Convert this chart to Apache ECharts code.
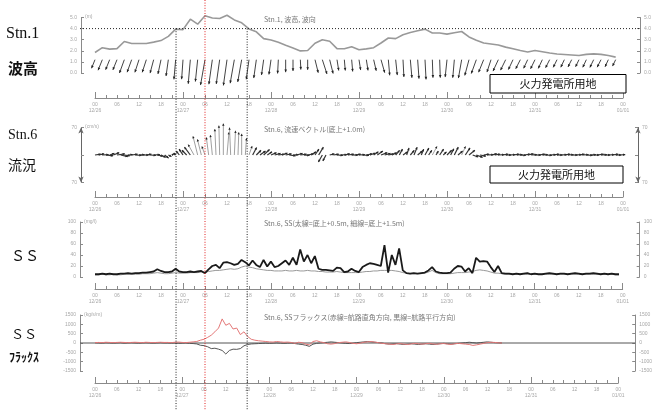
<!DOCTYPE html>
<html><head><meta charset="utf-8">
<script src="https://cdn.jsdelivr.net/npm/echarts@6/dist/echarts.min.js"></script>
<style>html,body{margin:0;padding:0;background:#fff}#c{width:655px;height:410px}</style>
</head><body><div id="c"></div>
<script>
// ---- tick labels ----
const dayLabels = ['12/26','12/27','12/28','12/29','12/30','12/31','01/01'];
const hourTickLabels = ['00','06','12','18'];
const waveStepH = 2;   // wave data every 2 hours
const hourlyStepH = 1; // other data hourly

// ---- Stn.1 wave height (m), every 2 h ----
const waveHeight = [1.85,2.28,2.15,2.2,2.84,2.66,2.66,2.66,2.78,2.92,
  3.3,3.95,3.91,4.85,4.4,5.15,4.95,4.91,5.2,4.78,
  4.52,3.97,3.71,3.1,2.98,2.76,2.5,2.25,1.99,2.03,
  2.68,3.0,2.86,2.2,2.18,2.37,2.1,2.17,2.28,2.7,
  3.15,3.1,3.45,3.65,3.8,3.95,3.6,3.6,3.5,3.62,
  3.74,3.25,2.95,2.7,2.61,2.52,2.33,2.18,2.03,1.9,
  2.03,1.92,1.8,1.71,1.67,1.62,1.57,1.68,1.72,1.68,
  1.57,1.43];
// wave direction (deg, coming from), every 2 h
const waveDir = [22,22,22,22,20,20,18,18,15,12,
  8,5,4,5,6,10,8,8,8,10,
  10,8,8,8,8,3,0,0,357,0,
  346,342,346,351,355,355,351,351,347,344,
  355,354,357,355,356,357,358,358,6,5,
  10,15,20,22,18,25,26,25,27,25,
  26,25,27,26,25,27,26,25,26,27,
  25,26];
const waveThreshold = 4.0;

// ---- Stn.6 current vector (cm/s), hourly ----
const curU = [15,14,16,18,12,15,20,18,14,12,
  15,16,14,15,13,15,16,14,12,10,
  8,5,-5,-8,-10,-12,-15,-15,-12,-10,
  -8,-6,-5,-3,-2,0,5,-3,3,2,
  0,3,8,10,12,14,15,12,14,15,
  16,14,15,16,14,15,16,14,15,12,
  10,12,-10,-8,12,14,15,16,14,15,
  16,14,15,16,15,14,12,14,16,15,
  14,12,10,8,12,6,10,8,12,6,
  10,8,12,6,10,8,12,8,10,12,
  10,12,15,14,16,15,14,16,15,14,
  15,16,14,15,16,15,14,16,15,14,
  15,16,14,15,16,15,14,16,15,14,
  15,16,14,15,16,15,14,16,15,14,15,16,14,15];
const curV = [2,3,1,-2,4,6,3,-4,-2,1,
  2,-1,1,0,2,-1,1,-3,-6,-8,
  -4,3,5,10,15,12,20,27,48,40,
  22,45,51,66,75,80,58,70,62,58,
  54,43,23,19,12,10,14,8,6,4,
  2,5,3,-2,1,4,2,-1,3,8,
  15,20,-18,-15,3,2,-1,1,3,2,
  0,2,1,-1,3,5,8,10,6,4,
  3,6,12,15,8,18,12,20,10,15,
  18,12,22,10,15,8,12,16,20,10,
  22,18,12,-5,-6,-3,2,1,3,2,
  1,2,0,1,2,1,-1,2,3,1,
  0,2,1,-1,1,2,0,1,2,1,
  0,1,2,1,-1,1,0,2,1,0,1,2,0,1];

// ---- Stn.6 SS (mg/l), hourly ----
const ssBottom05 = [5,5,6,5,6,5,5,6,6,7,
  6,7,7,8,8,9,10,14,11,9,
  9,10,15,10,9,9,10,9,10,11,
  7,14,20,22,16,26,27,25,22,24,
  31,27,21,30,22,18,31,19,28,18,
  20,25,30,22,35,22,50,28,40,25,
  38,15,13,13,12,11,17,16,9,10,
  15,11,9,18,22,25,24,22,20,58,
  8,40,22,52,12,7,6,7,6,7,
  8,12,18,10,8,7,7,8,15,20,
  19,10,16,7,35,28,29,28,18,9,
  20,7,6,6,5,6,5,6,7,5,
  6,5,5,6,7,6,5,6,6,5,
  6,7,6,5,6,6,7,6,5,6,
  5,6,5,5];
const ssBottom15 = [4,4,5,4,4,5,4,4,5,5,
  5,5,5,6,6,6,7,8,7,6,
  6,7,8,7,7,7,8,8,8,9,
  9,10,11,12,12,13,14,15,14,15,
  18,20,18,17,15,14,13,12,12,11,
  11,11,12,11,11,12,11,11,12,11,
  11,10,10,9,9,9,10,9,8,8,
  8,8,8,9,10,10,11,11,12,12,
  12,12,11,10,8,7,6,6,6,6,
  7,9,12,8,6,6,6,6,7,8,
  8,8,9,10,12,13,12,11,9,7,
  7,6,5,5,5,5,5,5,5,5,
  5,5,5,5,5,5,5,5,5,5,
  5,5,5,5,5,5,5,5,5,5,
  5,5,4,4];

// ---- Stn.6 SS flux (kg/s/m), hourly ----
const fluxPerp = [20,30,20,40,30,20,30,40,30,20,
  30,40,30,20,40,30,20,30,40,30,
  30,20,40,50,30,20,40,60,80,150,
  200,300,420,600,800,1290,950,1050,750,800,
  450,600,350,200,150,120,100,80,60,50,
  80,60,40,50,30,-20,40,20,-60,-100,
  80,120,60,20,-40,-60,-30,20,40,60,
  30,-20,-40,-10,40,60,80,50,20,-20,
  -40,-60,-80,-50,-30,-60,-80,-50,-20,-40,
  -60,-40,-20,-50,-70,-40,-30,-60,-80,-40,
  -20,-40,-60,-80,-130,-100,-60,-20,20,40,
  30,10,0];
const fluxPara = [10,0,-10,10,0,-10,0,10,-10,0,
  10,0,-10,0,10,0,-10,0,10,0,
  0,-10,0,-20,-10,0,-20,-30,-50,-120,
  -140,-200,-300,-280,-330,-400,-590,-400,-330,-340,
  -300,-150,-80,-50,-40,-30,-20,-10,-20,-10,
  0,-10,-20,-10,0,-30,-60,-80,-120,-180,
  -60,-20,0,20,40,60,40,20,0,-20,
  -30,-10,20,40,60,80,60,40,20,0,
  -40,-60,-50,-30,-60,-80,-60,-40,-60,-80,
  -60,-40,-60,-80,-60,-40,-20,-40,-60,-40,
  -20,0,20,40,20,0,20,40,60,40,
  20,10,0];

// event times (hours from 12/26 00:00)
const blackMarkerHours = [22.1, 41.5];
const redMarkerHours = [30];

// ---------------------------------------------------------
const toPairs = (arr, step) => arr.map((v, i) => [i * step, v]);
const AX = '#8a8a8a', LB = '#a8a8a8';
const xfmt = v => {
  if (v % 6) return '';
  const hh = hourTickLabels[(v % 24) / 6];
  return v % 24 === 0 ? hh + '\n' + dayLabels[v / 24] : hh;
};
const offs = [25, 14.5, 12, 12];
const xAxis = [];
offs.forEach((off, i) => {
  xAxis.push({type:'value', gridIndex:i, min:0, max:144, interval:3, position:'bottom', offset:off,
    axisLine:{onZero:false, lineStyle:{color:AX, width:1}},
    axisTick:{inside:true, length:3, lineStyle:{color:AX}},
    axisLabel:{fontSize:5, color:LB, margin:4, lineHeight:6, formatter:xfmt, showMinLabel:true, showMaxLabel:true},
    splitLine:{show:false}});
  xAxis.push({type:'value', gridIndex:i, min:0, max:144, interval:24, position:'bottom', offset:off,
    axisLine:{show:false, onZero:false}, axisTick:{inside:true, length:6, lineStyle:{color:AX}},
    axisLabel:{show:false}, splitLine:{show:false}});
});
function yAx(i, pos, off, min, max, interval, fmt, name, extra) {
  return Object.assign({type:'value', gridIndex:i, position:pos, offset:off, min, max, interval,
    axisLine:{show:true, onZero:false, lineStyle:{color:AX}},
    axisTick:{show:true, inside:true, length:3, lineStyle:{color:AX}},
    axisLabel:{fontSize:5, color:LB, margin:4, formatter:fmt},
    splitLine:{show:false},
    name: name || '', nameLocation:'end', nameGap:-2,
    nameTextStyle:{fontSize:5, color:LB, align:'left', padding:[0,0,0,4]}}, extra || {});
}
const f1 = v => v.toFixed(1);
const fAbs = v => v === 0 ? '' : String(Math.abs(v));
const fi = v => String(v);
const arrowLine = {show:true, onZero:false, lineStyle:{color:'#666'}, symbol:['arrow','arrow'], symbolSize:[4,6]};
const yAxis = [
  yAx(0,'left',14,0,5,1,f1,'(m)'),
  yAx(0,'right',17,0,5,1,f1),
  yAx(1,'left',14,-70,70,70,fAbs,'(cm/s)',{axisLine:arrowLine}),
  yAx(1,'right',15,-70,70,70,fAbs,'',{axisLine:arrowLine}),
  yAx(2,'left',15,0,100,20,fi,'(mg/l)'),
  yAx(2,'right',17,0,100,20,fi),
  yAx(3,'left',15,-1500,1500,500,fi,'(kg/s/m)'),
  yAx(3,'right',17,-1500,1500,500,fi)
];
const grid = [
  {left:95, right:32, top:17.5, height:55.5},
  {left:95, right:32, top:127.5, height:55},
  {left:95, right:32, top:222, height:55},
  {left:95, right:32, top:315, height:56}
];

const arrowBaseM = 1.2;
function waveArrow(params, api) {
  const h = api.value(0), hs = api.value(1), dir = api.value(2);
  const tail = api.coord([h, arrowBaseM]);
  const L = hs * 5;
  const r = dir * Math.PI / 180;
  const tip = [tail[0] - Math.sin(r) * L, tail[1] + Math.cos(r) * L];
  const a = Math.atan2(tip[1] - tail[1], tip[0] - tail[0]);
  const hl = 3;
  const p1 = [tip[0] - hl * Math.cos(a - 0.45), tip[1] - hl * Math.sin(a - 0.45)];
  const p2 = [tip[0] - hl * Math.cos(a + 0.45), tip[1] - hl * Math.sin(a + 0.45)];
  return {type:'group', children:[
    {type:'line', shape:{x1:tail[0], y1:tail[1], x2:tip[0], y2:tip[1]}, style:{stroke:'#444', lineWidth:1}},
    {type:'polygon', shape:{points:[tip, p1, p2]}, style:{fill:'#222'}}
  ]};
}
function stick(params, api) {
  const h = api.value(0), u = api.value(1), v = api.value(2);
  const base = api.coord([h, 0]);
  const k = api.size([0, 1])[1];
  const tip = [base[0] + u * k, base[1] - v * k];
  const a = Math.atan2(tip[1] - base[1], tip[0] - base[0]);
  const hl = 2.5;
  const p1 = [tip[0] - hl * Math.cos(a - 0.5), tip[1] - hl * Math.sin(a - 0.5)];
  const p2 = [tip[0] - hl * Math.cos(a + 0.5), tip[1] - hl * Math.sin(a + 0.5)];
  const big = Math.abs(v) > 20;
  return {type:'group', children:[
    {type:'line', shape:{x1:base[0], y1:base[1], x2:tip[0], y2:tip[1]},
      style:{stroke: big ? '#888' : '#333', lineWidth: big ? 0.8 : 1.2}},
    {type:'polygon', shape:{points:[tip, p1, p2]}, style:{fill:'#222'}}
  ]};
}
function hRef(color, dash, lw) {
  return function (params, api) {
    const cs = params.coordSys;
    const y = api.coord([0, api.value(1)])[1];
    return {type:'line', shape:{x1:cs.x - 15, y1:y, x2:cs.x + cs.width + 17, y2:y},
      style:{stroke:color, lineWidth:lw, lineDash:dash}};
  };
}
function vMarker(color, fromThreshold) {
  return function (params, api) {
    const x = api.coord([api.value(0), 0])[0];
    const y1 = fromThreshold ? api.coord([0, waveThreshold])[1] : 0;
    return {type:'line', shape:{x1:x, y1:y1, x2:x, y2:api.getHeight()},
      style:{stroke:color, lineWidth:1, lineDash:[1,1.6]}};
  };
}

const waveData = waveHeight.map((v, i) => [i * waveStepH, v, waveDir[i]]);
const curData = curU.map((u, i) => [i * hourlyStepH, u, curV[i]]);

const TS = {fontSize:7, color:'#777', fontWeight:'normal', fontFamily:'"Noto Sans CJK JP", sans-serif'};
const option = {
  animation:false,
  backgroundColor:'#fff',
  title:[
    {text:'Stn.1, 波高, 波向', left:259, top:11, textStyle:TS},
    {text:'Stn.6, 流速ベクトル(底上+1.0m)', left:259, top:121, textStyle:TS},
    {text:'Stn.6, SS(太線=底上+0.5m, 細線=底上+1.5m)', left:259, top:215, textStyle:TS},
    {text:'Stn.6, SSフラックス(赤線=航路直角方向, 黒線=航路平行方向)', left:259, top:309, textStyle:TS}
  ],
  grid, xAxis, yAxis,
  series:[
    {type:'line', xAxisIndex:0, yAxisIndex:0, data:toPairs(waveHeight, waveStepH), symbol:'none', clip:false,
      lineStyle:{color:'#999', width:1.6}},
    {type:'custom', xAxisIndex:0, yAxisIndex:0, data:waveData, renderItem:waveArrow, encode:{x:0, y:1}, clip:false},
    {type:'custom', xAxisIndex:0, yAxisIndex:0, data:[[0, waveThreshold]], renderItem:hRef('#222', [1,2], 1), clip:false, z:5},
    {type:'custom', xAxisIndex:2, yAxisIndex:2, data:curData, renderItem:stick, encode:{x:0, y:2}, clip:false},
    {type:'line', xAxisIndex:4, yAxisIndex:4, data:toPairs(ssBottom15, hourlyStepH), symbol:'none',
      lineStyle:{color:'#999', width:1}},
    {type:'line', xAxisIndex:4, yAxisIndex:4, data:toPairs(ssBottom05, hourlyStepH), symbol:'none',
      lineStyle:{color:'#1a1a1a', width:1.8}},
    {type:'custom', xAxisIndex:6, yAxisIndex:6, data:[[0, 0]], renderItem:hRef('#555', null, 1), clip:false},
    {type:'line', xAxisIndex:6, yAxisIndex:6, data:toPairs(fluxPara, hourlyStepH), symbol:'none',
      lineStyle:{color:'#555', width:1}},
    {type:'line', xAxisIndex:6, yAxisIndex:6, data:toPairs(fluxPerp, hourlyStepH), symbol:'none',
      lineStyle:{color:'#e47878', width:1}},
    {type:'custom', xAxisIndex:0, yAxisIndex:0, data:blackMarkerHours.map(h => [h, 0]), renderItem:vMarker('#222', true), clip:false, z:10},
    {type:'custom', xAxisIndex:0, yAxisIndex:0, data:redMarkerHours.map(h => [h, 0]), renderItem:vMarker('#e02020', false), clip:false, z:10}
  ],
  graphic:[
    {type:'text', left:6, top:26, style:{text:'Stn.1', font:'16px "Liberation Serif", serif', fill:'#111'}},
    {type:'text', left:8, top:61, style:{text:'波高', font:'bold 15px "Noto Sans CJK JP"', fill:'#111'}},
    {type:'text', left:8, top:128, style:{text:'Stn.6', font:'14px "Liberation Serif", serif', fill:'#111'}},
    {type:'text', left:8, top:158, style:{text:'流況', font:'14px "Noto Sans CJK JP"', fill:'#111'}},
    {type:'text', left:11, top:249, style:{text:'ＳＳ', font:'14px "Noto Sans CJK JP"', fill:'#111'}},
    {type:'text', left:11, top:328, style:{text:'ＳＳ', font:'13px "Noto Sans CJK JP"', fill:'#111'}},
    {type:'text', left:9, top:351, style:{text:'ﾌﾗｯｸｽ', font:'bold 12px "Noto Sans CJK JP"', fill:'#111'}},
    {type:'rect', shape:{x:490, y:74.5, width:136, height:18.5}, style:{fill:'#fff', stroke:'#000', lineWidth:1}, z:20},
    {type:'text', x:558, y:84, style:{text:'火力発電所用地', font:'11px "Noto Sans CJK JP"', fill:'#111', align:'center', verticalAlign:'middle'}, z:21},
    {type:'rect', shape:{x:490, y:166, width:133, height:17}, style:{fill:'#fff', stroke:'#000', lineWidth:1}, z:20},
    {type:'text', x:556.5, y:174.5, style:{text:'火力発電所用地', font:'11px "Noto Sans CJK JP"', fill:'#111', align:'center', verticalAlign:'middle'}, z:21}
  ]
};
const chart = echarts.init(document.getElementById('c'), null, {renderer:'canvas'});
chart.setOption(option);
</script></body></html>
